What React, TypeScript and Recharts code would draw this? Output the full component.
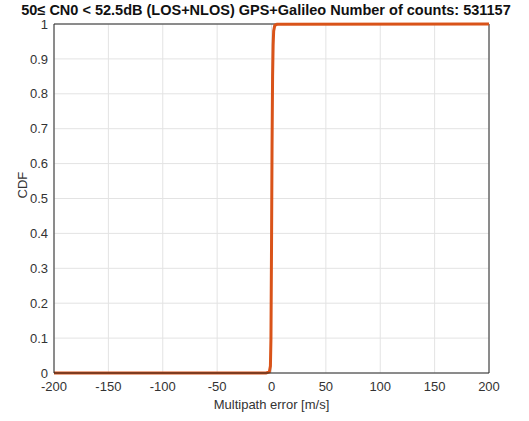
import React from 'react';
import { LineChart, Line, XAxis, YAxis, CartesianGrid, ReferenceLine } from 'recharts';

const errorValues = [-200, -5, -2, -1, -0.5, 0, 0.5, 1, 1.5, 2, 3, 5, 200];
const cdfValues = [0, 0, 0.003, 0.02, 0.1, 0.35, 0.65, 0.85, 0.94, 0.98, 0.996, 0.999, 1];
const xTicks = [-200, -150, -100, -50, 0, 50, 100, 150, 200];
const yTicks = [0, 0.1, 0.2, 0.3, 0.4, 0.5, 0.6, 0.7, 0.8, 0.9, 1];

const data = errorValues.map((x, i) => ({ x, cdf: cdfValues[i] }));

const axisColor = '#262626';
const labelColor = '#333';
const font = 'Liberation Sans, Arial, sans-serif';

const App: React.FC = () => {
  return (
    <div style={{ position: 'absolute', left: 0, top: 0, width: 529, height: 421, background: '#fff', fontFamily: font }}>
      <div
        style={{
          position: 'absolute', left: 0, top: 2, width: 532, textAlign: 'center',
          fontSize: 14.5, fontWeight: 'bold', color: '#111', whiteSpace: 'nowrap',
        }}
      >
        50≤ CN0 &lt; 52.5dB (LOS+NLOS) GPS+Galileo Number of counts: 531157
      </div>
      <LineChart width={529} height={421} data={data} margin={{ top: 24, right: 40, left: 24, bottom: 18 }}>
        <CartesianGrid stroke="#e3e3e3" strokeWidth={1} />
        <XAxis
          type="number"
          dataKey="x"
          domain={[-200, 200]}
          ticks={xTicks}
          height={30}
          stroke={axisColor}
          tickLine={false}
          tick={{ fill: labelColor, fontSize: 13, fontFamily: font, dy: 1 }}
          label={{ value: 'Multipath error [m/s]', position: 'insideBottom', offset: -6, fill: labelColor, fontSize: 13, fontFamily: font }}
        />
        <YAxis
          type="number"
          domain={[0, 1]}
          ticks={yTicks}
          width={30}
          stroke={axisColor}
          tickLine={false}
          tick={{ fill: labelColor, fontSize: 13, fontFamily: font, dx: 2 }}
          label={{ value: 'CDF', angle: -90, position: 'insideLeft', offset: -2, fill: labelColor, fontSize: 13, fontFamily: font }}
        />
        <ReferenceLine x={200} stroke={axisColor} strokeWidth={1} />
        <ReferenceLine y={1} stroke={axisColor} strokeWidth={1} />
        <Line
          type="linear"
          dataKey="cdf"
          stroke="#D95319"
          strokeWidth={3}
          dot={false}
          isAnimationActive={false}
        />
      </LineChart>
    </div>
  );
};

export default App;
